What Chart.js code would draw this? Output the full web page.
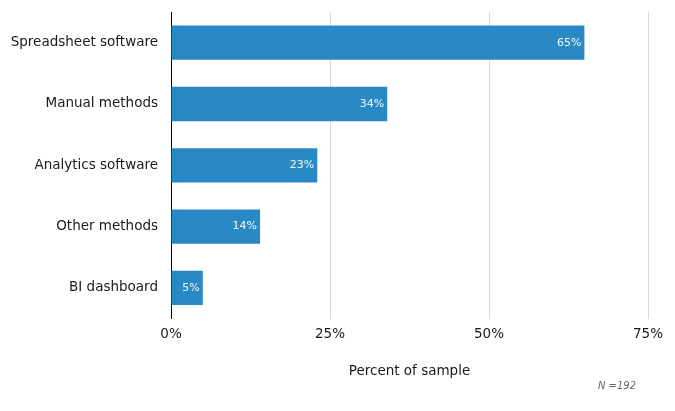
<!DOCTYPE html>
<html>
<head>
<meta charset="utf-8">
<script src="https://cdn.jsdelivr.net/npm/chart.js@4"></script>
<style>
  html, body { margin: 0; padding: 0; background: #fff; }
  #wrap { width: 675px; height: 411px; position: relative; }
</style>
</head>
<body>
<div id="wrap"><canvas id="chart"></canvas></div>
<script>
const categories = ['Spreadsheet software', 'Manual methods', 'Analytics software', 'Other methods', 'BI dashboard'];
const percents = [65, 34, 23, 14, 5];
const xTicks = [0, 25, 50, 75];
const sampleNote = 'N =192';

Chart.defaults.font.family = '"DejaVu Sans", Verdana, sans-serif';

// value labels inside the end of each bar, plus the sample size note
const barLabels = {
    id: 'barLabels',
    afterDatasetsDraw(chart) {
        const ctx = chart.ctx;
        const meta = chart.getDatasetMeta(0);
        ctx.save();
        ctx.font = '11px "DejaVu Sans", Verdana, sans-serif';
        ctx.fillStyle = '#f4f8fc';
        ctx.textAlign = 'right';
        ctx.textBaseline = 'middle';
        meta.data.forEach(function (bar, i) {
            ctx.fillText(percents[i] + '%', bar.x - 3, bar.y);
        });
        ctx.font = 'italic 10px "DejaVu Sans", Verdana, sans-serif';
        ctx.fillStyle = '#666666';
        ctx.fillText(sampleNote, chart.scales.x.right - 12, 386);
        ctx.restore();
    }
};

new Chart(document.getElementById('chart'), {
    type: 'bar',
    data: {
        labels: categories,
        datasets: [{
            data: percents,
            backgroundColor: 'rgb(41, 137, 197)',
            borderWidth: 0,
            categoryPercentage: 1,
            barPercentage: 0.56
        }]
    },
    options: {
        indexAxis: 'y',
        responsive: true,
        maintainAspectRatio: false,
        animation: false,
        layout: { padding: { top: 12, right: 27, bottom: 27, left: 0 } },
        plugins: {
            legend: { display: false },
            tooltip: { enabled: false }
        },
        scales: {
            x: {
                min: 0,
                max: 75,
                afterBuildTicks: function (axis) {
                    axis.ticks = xTicks.map(function (v) { return { value: v }; });
                },
                ticks: {
                    color: '#1a1a1a',
                    font: { size: 13.5 },
                    padding: 8,
                    maxRotation: 0,
                    callback: function (v) { return v + '%'; }
                },
                grid: { color: '#d9d9d9', drawTicks: false, lineWidth: 1 },
                border: { display: false },
                title: {
                    display: true,
                    text: 'Percent of sample',
                    color: '#1a1a1a',
                    font: { size: 13.5 },
                    padding: { top: 13, bottom: 4 }
                }
            },
            y: {
                afterFit: function (axis) {
                    axis.width = 171;
                    axis.paddingTop = 0;
                    axis.paddingBottom = 0;
                },
                ticks: { color: '#1a1a1a', font: { size: 13.5 }, padding: 13 },
                grid: { display: false, drawTicks: false },
                border: { display: true, color: '#000', width: 1 }
            }
        }
    },
    plugins: [barLabels]
});
</script>
</body>
</html>
